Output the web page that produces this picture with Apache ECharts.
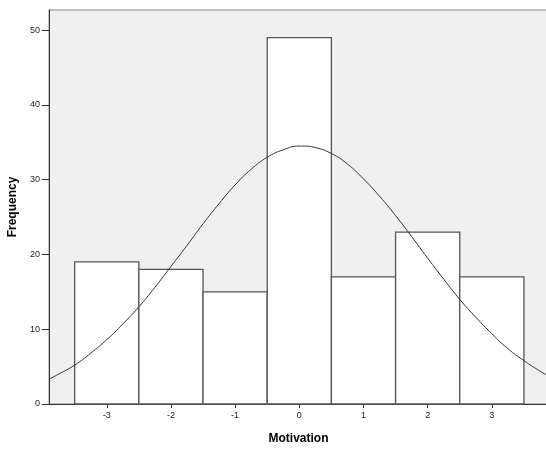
<!DOCTYPE html>
<html><head><meta charset="utf-8">
<script src="https://cdn.jsdelivr.net/npm/echarts@6/dist/echarts.min.js"></script>
<style>html,body{margin:0;padding:0;background:#fff}#c{width:546px;height:450px}</style>
</head><body><div id="c"></div>
<script>
const binCenters = [-3, -2, -1, 0, 1, 2, 3];
const frequencies = [19, 18, 15, 49, 17, 23, 17];
const xTicks = [-3, -2, -1, 0, 1, 2, 3];
const yTicks = [0, 10, 20, 30, 40, 50];
const curveX = [-3.9,-3.75,-3.5,-3.25,-3,-2.75,-2.5,-2.25,-2,-1.75,-1.5,-1.25,-1,-0.75,-0.5,-0.25,0,0.05,0.25,0.5,0.75,1,1.25,1.5,1.75,2,2.25,2.5,2.75,3,3.25,3.5,3.75,3.875];
const curveY = [3.3,4.0,5.2,6.8,8.6,10.7,13.0,15.6,18.4,21.2,24.1,26.8,29.3,31.4,33.0,34.0,34.5,34.5,34.3,33.5,32.1,30.1,27.8,25.2,22.4,19.5,16.7,14.0,11.6,9.4,7.4,5.8,4.4,3.8];

const chart = echarts.init(document.getElementById('c'), null, {renderer: 'canvas'});
const font = 'Liberation Sans, Arial, sans-serif';
chart.setOption({
  animation: false,
  grid: {left: 49, top: 10, bottom: 46, right: -2, containLabel: false, outerBoundsMode: 'none', show: true, backgroundColor: '#f0f0f0', borderColor: '#8a8a8a', borderWidth: 1},
  xAxis: {
    type: 'value', min: -3.9, max: 3.875,
    name: 'Motivation', nameLocation: 'middle', nameGap: 29,
    nameTextStyle: {fontFamily: font, fontSize: 12, fontWeight: 'bold', color: '#000'},
    axisLine: {show: true, onZero: false, lineStyle: {color: '#333', width: 1}},
    axisTick: {show: true, length: 4, customValues: xTicks, lineStyle: {color: '#333'}},
    axisLabel: {customValues: xTicks, fontFamily: font, fontSize: 9, color: '#222', margin: 7},
    splitLine: {show: false}
  },
  yAxis: {
    type: 'value', min: 0, max: 52.7,
    name: 'Frequency', nameLocation: 'middle', nameGap: 26, nameRotate: 90,
    nameTextStyle: {fontFamily: font, fontSize: 12, fontWeight: 'bold', color: '#000'},
    axisLine: {show: true, onZero: false, lineStyle: {color: '#333', width: 1}},
    axisTick: {show: true, length: 7, customValues: yTicks, lineStyle: {color: '#333'}},
    axisLabel: {customValues: yTicks, fontFamily: font, fontSize: 9, color: '#222', margin: 9},
    splitLine: {show: false}
  },
  series: [
    {
      type: 'custom',
      data: binCenters.map((c, i) => [c, frequencies[i]]),
      renderItem: function (params, api) {
        const c = api.value(0), f = api.value(1);
        const p0 = api.coord([c - 0.5, f]);
        const p1 = api.coord([c + 0.5, 0]);
        return {type: 'rect', shape: {x: p0[0], y: p0[1], width: p1[0] - p0[0], height: p1[1] - p0[1]},
          style: {fill: '#ffffff', stroke: '#555555', lineWidth: 1.3}};
      },
      z: 2
    },
    {
      type: 'line', smooth: true, showSymbol: false, symbol: 'none',
      data: curveX.map((x, i) => [x, curveY[i]]),
      lineStyle: {color: '#333', width: 1},
      z: 3
    }
  ]
});
</script></body></html>
